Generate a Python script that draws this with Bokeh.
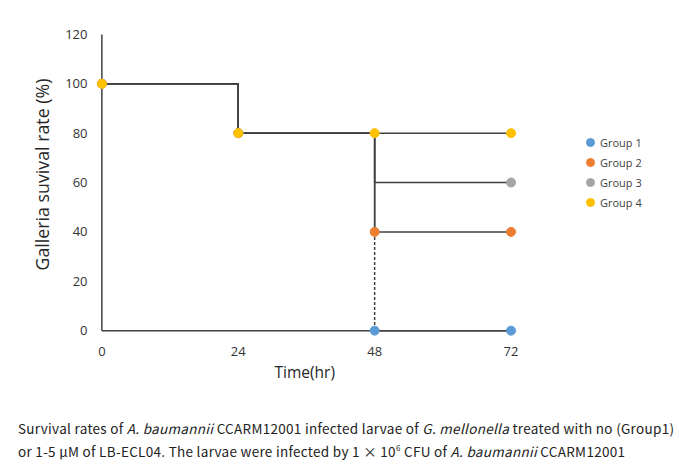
from bokeh.plotting import figure
from bokeh.models import Range1d, Legend, LegendItem, Div, Title
from bokeh.layouts import column
from bokeh.embed import file_html
from bokeh.resources import INLINE

# ---- data ----
time_hr = [0, 24, 48, 72]
group_names = ["Group 1", "Group 2", "Group 3", "Group 4"]
group1 = [100, 80, 0, 0]
group2 = [100, 80, 40, 40]
group3 = [100, 80, 60, 60]
group4 = [100, 80, 80, 80]
# time points where each group's marker is shown
group1_marker_t = [0, 24, 48, 72]
group2_marker_t = [0, 24, 48, 72]
group3_marker_t = [0, 24, 72]
group4_marker_t = [0, 24, 48, 72]
x_ticks = [0, 24, 48, 72]
y_ticks = [0, 20, 40, 60, 80, 100, 120]

colors = ["#5B9BD5", "#ED7D31", "#A5A5A5", "#FFC000"]
line_col = "#404040"
FONT = "Open Sans"

p = figure(output_backend="svg", toolbar_location=None,
           frame_width=570, frame_height=332,
           min_border_left=90, min_border_right=10,
           min_border_top=8, min_border_bottom=60,
           x_range=Range1d(-2, 98.3), y_range=Range1d(-4, 130.5))
p.outline_line_color = None
p.grid.visible = False
p.background_fill_color = "white"

for ax in (p.xaxis, p.yaxis):
    ax.axis_line_color = None
    ax.major_tick_line_color = None
    ax.minor_tick_line_color = None
    ax.major_tick_out = 0
    ax.major_tick_in = 0
    ax.minor_tick_out = 0
    ax.major_label_text_font = FONT
    ax.major_label_text_font_size = "13px"
    ax.major_label_text_color = "#333333"
    ax.axis_label_text_font = FONT
    ax.axis_label_text_font_style = "normal"
    ax.axis_label_text_color = "#262626"

p.xaxis.ticker = x_ticks
p.yaxis.ticker = y_ticks
p.xaxis.major_label_standoff = 6
p.yaxis.major_label_standoff = 3
p.yaxis.axis_label = "Galleria suvival rate (%)"
p.yaxis.axis_label_text_font_size = "17.8px"
p.yaxis.axis_label_standoff = 8

xlabel = Title(text="Time(hr)", align="left", offset=184, standoff=0,
               text_font=FONT, text_font_size="15.5px", text_font_style="normal",
               text_color="#262626")
p.add_layout(xlabel, "below")

# axis lines
p.segment(x0=[x_ticks[0], x_ticks[0]], y0=[y_ticks[0], y_ticks[0]],
          x1=[x_ticks[-1], x_ticks[0]], y1=[y_ticks[0], y_ticks[-1]],
          line_color=line_col, line_width=1.5)

# group 1: step segments built from the data; the final drop below the other groups is dashed
others_at = [min(g[i] for g in (group2, group3, group4)) for i in range(len(time_hr))]
sx0, sy0, sx1, sy1 = [], [], [], []
dx0, dy0, dx1, dy1 = [], [], [], []
for i in range(len(time_hr) - 1):
    t0, t1 = time_hr[i], time_hr[i + 1]
    v0, v1 = group1[i], group1[i + 1]
    sx0.append(t0); sy0.append(v0); sx1.append(t1); sy1.append(v0)
    if v1 != v0:
        lo = others_at[i + 1]
        if v1 < lo:
            sx0.append(t1); sy0.append(v0); sx1.append(t1); sy1.append(lo)
            dx0.append(t1); dy0.append(lo); dx1.append(t1); dy1.append(v1)
        else:
            sx0.append(t1); sy0.append(v0); sx1.append(t1); sy1.append(v1)
p.segment(x0=sx0, y0=sy0, x1=sx1, y1=sy1, line_color=line_col, line_width=1.5)
p.segment(x0=dx0, y0=dy0, x1=dx1, y1=dy1, line_color=line_col, line_width=1.5,
          line_dash="3 2")

for vals in (group2, group3, group4):
    p.step(time_hr, vals, mode="after", line_color=line_col, line_width=1.5)

series = [group1, group2, group3, group4]
mtimes = [group1_marker_t, group2_marker_t, group3_marker_t, group4_marker_t]
items = []
for name, vals, mt, c in zip(group_names, series, mtimes, colors):
    xs = list(mt)
    ys = [vals[time_hr.index(t)] for t in mt]
    r = p.scatter(xs, ys, size=9, fill_color=c, line_color=c)
    items.append(LegendItem(label=name, renderers=[r]))

legend = Legend(items=items, location=(490, 128),
                glyph_width=20, glyph_height=20, spacing=0,
                label_standoff=0, padding=0, margin=0,
                border_line_color=None, background_fill_alpha=0,
                label_text_font=FONT, label_text_font_size="11px",
                label_text_color="#404040", label_height=20)
p.add_layout(legend, "center")

caption = Div(text=(
    'Survival rates of <i>A. baumannii</i> CCARM12001 infected larvae of '
    '<i>G. mellonella</i> treated with no (Group1)<br>'
    'or 1-5 \u03bcM of LB-ECL04. The larvae were infected by 1 \u00d7 10<sup style="font-size:8px">6</sup> CFU of '
    '<i>A. baumannii</i> CCARM12001'),
    width=670, margin=(19, 0, 0, 18),
    styles={"font-family": "Noto Sans CJK KR", "font-size": "13.5px",
            "letter-spacing": "0.3px",
            "color": "#222222", "line-height": "19px", "white-space": "nowrap"})

layout = column(p, caption)
open("out.html", "w").write(file_html(layout, INLINE))
